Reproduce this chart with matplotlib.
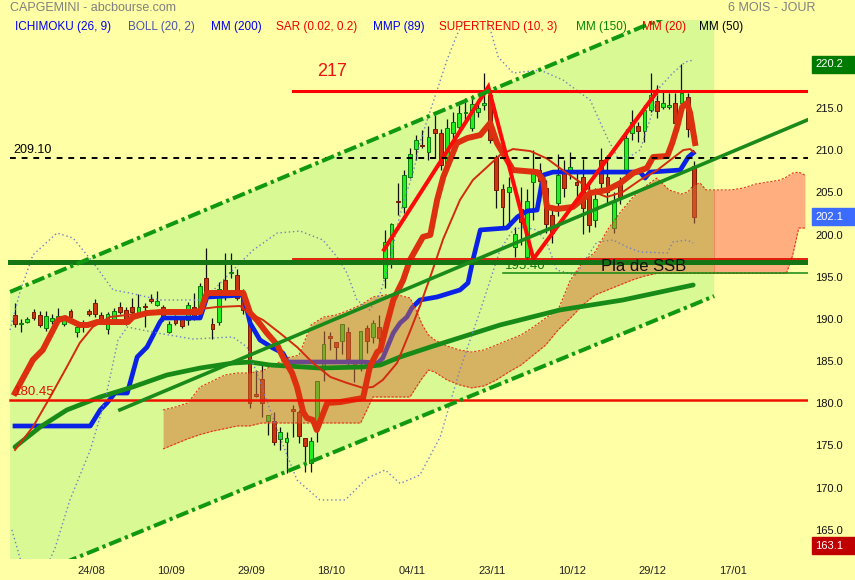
import numpy as np
import matplotlib
matplotlib.use("Agg")
import matplotlib.pyplot as plt
from matplotlib.patches import Rectangle

plt.rcParams['font.family'] = ['Liberation Sans', 'DejaVu Sans']

# ---------------- data (trading-day index / price) ----------------
opens = [190.46, 189.40, 189.63, 190.82, 190.46, 188.92, 189.75, 189.75, 189.40, 190.94,
         188.45, 189.28, 190.94, 191.88, 190.46, 188.80, 189.75, 191.41, 191.05, 191.41,
         190.70, 191.53, 192.36, 191.65, 191.41, 188.45, 190.22, 189.99, 189.87, 191.41,
         190.70, 194.85, 189.40, 189.63, 194.61, 195.40, 195.20, 193.07, 189.87, 181.10,
         182.87, 177.90, 177.90, 175.77, 175.42, 179.30, 178.97, 175.89, 172.93, 177.67,
         184.30, 187.97, 187.26, 187.38, 188.45, 184.77, 184.89, 188.92, 187.86, 189.04,
         194.85, 197.10, 203.90, 203.26, 206.81, 210.13, 210.55, 209.77, 212.50, 212.03,
         208.23, 212.03, 212.74, 214.40, 212.62, 214.51, 215.34, 216.53, 209.18, 205.39,
         205.03, 198.52, 203.00, 197.33, 206.20, 207.60, 205.51, 202.31, 203.73, 207.64,
         207.29, 206.22, 206.81, 205.03, 201.72, 208.83, 206.81, 200.77, 206.22, 207.64,
         212.03, 212.85, 212.26, 214.75, 215.82, 215.11, 215.11, 215.58, 215.58, 216.29,
         208.12]
highs = [191.90, 190.00, 190.20, 191.20, 190.90, 190.90, 190.60, 191.30, 190.30, 191.20,
         189.60, 189.90, 191.20, 192.40, 190.80, 190.80, 191.30, 192.00, 191.40, 192.50,
         193.00, 191.90, 192.90, 193.30, 191.70, 189.70, 190.50, 190.20, 192.00, 193.10,
         194.20, 198.40, 190.10, 194.40, 197.80, 197.80, 195.90, 193.50, 190.46, 184.00,
         184.80, 178.60, 179.00, 177.20, 176.60, 179.80, 179.20, 175.90, 176.00, 182.64,
         188.60, 188.50, 187.30, 189.40, 189.10, 184.90, 188.60, 189.30, 189.90, 190.50,
         200.50, 201.40, 206.10, 207.60, 210.25, 211.80, 212.40, 212.90, 214.20, 212.50,
         213.70, 214.50, 215.30, 216.20, 216.50, 216.10, 219.10, 217.10, 209.40, 206.00,
         206.80, 200.90, 205.60, 205.40, 210.00, 208.50, 206.50, 203.50, 209.60, 208.80,
         209.80, 207.50, 208.90, 206.40, 205.50, 210.20, 209.40, 205.00, 206.80, 212.50,
         214.75, 213.30, 215.30, 219.10, 217.70, 217.10, 216.80, 216.80, 220.20, 216.80,
         208.70]
lows = [189.00, 188.50, 189.50, 189.90, 189.00, 188.60, 189.40, 189.50, 189.20, 190.00,
        187.90, 188.50, 190.40, 190.20, 189.50, 188.20, 189.40, 190.60, 189.30, 190.60,
        190.30, 189.00, 191.90, 191.50, 189.80, 188.30, 189.30, 188.90, 189.30, 189.90,
        190.30, 192.70, 187.60, 189.30, 192.30, 194.90, 192.20, 190.60, 179.50, 180.80,
        178.40, 176.20, 175.10, 174.50, 171.70, 176.00, 175.30, 171.90, 171.90, 175.40,
        182.70, 186.30, 184.90, 185.80, 184.50, 182.50, 183.80, 186.00, 187.20, 186.70,
        193.70, 196.00, 202.30, 202.60, 206.70, 208.80, 210.20, 208.80, 209.10, 207.70,
        207.70, 211.20, 212.30, 213.30, 212.30, 213.90, 214.70, 210.90, 203.10, 200.80,
        200.80, 197.30, 198.70, 196.80, 201.70, 204.00, 200.20, 199.00, 202.20, 204.40,
        206.60, 204.00, 200.10, 200.30, 200.90, 204.90, 203.50, 200.20, 203.60, 206.50,
        211.20, 211.00, 211.00, 214.50, 213.80, 214.90, 214.90, 213.20, 215.30, 211.56,
        201.36]
closes = [189.40, 189.51, 189.99, 190.11, 189.28, 190.34, 190.10, 190.34, 189.87, 190.22,
          189.04, 189.63, 190.58, 190.58, 189.75, 190.58, 190.94, 190.82, 189.75, 190.82,
          191.41, 191.41, 192.12, 192.12, 190.11, 189.40, 189.51, 189.16, 191.65, 190.22,
          193.90, 193.07, 188.80, 193.54, 192.59, 195.44, 192.48, 191.05, 180.04, 180.85,
          180.04, 178.61, 175.41, 176.60, 175.89, 179.10, 176.13, 174.94, 175.53, 182.64,
          187.03, 187.74, 186.67, 189.40, 185.25, 184.42, 188.57, 187.38, 189.51, 187.74,
          199.11, 201.24, 203.80, 207.05, 209.54, 211.20, 210.45, 211.55, 212.03, 208.23,
          212.62, 213.33, 214.40, 214.52, 215.46, 214.99, 215.58, 211.20, 205.27, 203.26,
          205.63, 200.06, 201.50, 203.97, 207.40, 206.40, 201.24, 200.18, 207.05, 205.51,
          208.00, 205.86, 203.14, 201.13, 204.21, 206.10, 205.03, 203.85, 204.44, 211.43,
          213.33, 212.26, 214.75, 216.53, 214.63, 215.58, 215.34, 213.21, 216.76, 212.50,
          202.10]

# Ichimoku (blue thick)
ichi_x = [0, 12.2, 13.8, 14.9, 16.2, 18.2, 19.8, 21.4, 22.4, 23.5, 24.0, 30.0, 31.1, 37.0, 38.1,
          39.7, 41.8, 43.4, 44.2, 56.4, 58.8, 59.6, 61.3, 62.4, 63.5, 64.3, 65.6, 68.4, 72.1, 73.4,
          74.2, 75.4, 79.7, 81.4, 83.0, 84.6, 85.6, 87.2, 101.3, 102.1, 102.9, 107.8, 109.1, 109.9]
ichi_y = [177.31, 177.31, 179.21, 180.04, 181.22, 181.22, 185.49, 186.67, 188.09, 189.63, 190.11,
          190.11, 192.59, 192.83, 189.51, 187.50, 186.55, 185.96, 184.89, 184.89, 184.77, 185.37,
          188.34, 189.51, 190.22, 191.29, 192.24, 192.60, 193.43, 194.26, 196.98, 200.54, 200.78,
          202.08, 202.79, 202.90, 207.05, 207.40, 207.40, 206.69, 207.40, 207.64, 209.18, 209.66]

# Supertrend (thick red)
st_x = [0, 2.9, 4.5, 7.0, 8.1, 10.5, 11.8, 13.3, 18.3, 19.1, 21.4, 24.0, 30.0, 31.1, 37.0, 38.1,
        39.2, 40.8, 42.5, 43.4, 44.9, 45.7, 46.7, 47.3, 48.3, 48.9, 50.6, 52.7, 56.4, 57.5, 58.7,
        59.2, 60.3, 61.3, 62.9, 64.0, 66.1, 67.3, 68.4, 69.4, 71.6, 73.3, 75.4, 77.0, 78.1, 80.7,
        84.6, 85.6, 86.2, 87.8, 90.4, 93.2, 95.9, 98.1, 100.2, 102.4, 103.4, 105.7, 106.5, 107.3,
        108.1, 108.9, 109.4, 110.2]
st_y = [181.23, 185.14, 186.32, 189.87, 190.11, 189.28, 189.28, 189.63, 189.63, 190.22, 190.70,
        190.82, 190.82, 193.07, 193.07, 190.70, 189.87, 188.34, 186.91, 185.49, 183.59, 181.93,
        178.97, 178.26, 178.02, 176.84, 180.04, 180.15, 180.63, 184.30, 186.08, 186.32, 189.51,
        192.24, 194.61, 196.98, 199.71, 199.95, 204.09, 206.81, 210.84, 211.43, 211.79, 213.21,
        210.84, 207.64, 207.40, 206.46, 203.26, 203.02, 203.26, 204.92, 205.27, 206.10, 207.29,
        207.88, 209.18, 209.30, 210.84, 212.74, 215.11, 215.58, 214.40, 210.84]

# MM(20) thin red
m20_x = [0, 2.9, 5.7, 8.4, 10.5, 12.6, 15.4, 18.2, 20.7, 24.0, 27.2, 30.0, 32.7, 36.5, 37.6, 40.2,
         42.9, 45.7, 48.3, 51.1, 53.8, 56.4, 58.0, 59.6, 61.9, 64.0, 65.6, 67.3, 69.4, 72.1, 74.2,
         76.5, 78.6, 80.7, 83.5, 86.2, 88.8, 91.6, 93.2, 95.9, 98.5, 101.3, 104.1, 106.6, 108.3,
         109.4, 110.0]
m20_y = [174.47, 177.20, 180.75, 184.31, 187.16, 189.05, 190.23, 190.47, 190.70, 191.06, 190.95,
         191.17, 191.41, 191.53, 190.82, 189.87, 188.34, 186.67, 184.77, 183.12, 182.41, 181.82,
         181.94, 182.77, 184.77, 188.50, 191.50, 195.00, 199.50, 204.09, 206.46, 208.00, 209.42,
         210.13, 209.89, 209.00, 207.60, 206.20, 205.20, 204.45, 205.04, 206.46, 207.64, 209.06,
         210.01, 210.13, 209.77]

# MM(150) thick green
m150_x = [0, 4.1, 8.4, 13.8, 19.1, 24.6, 30.0, 35.3, 38.1, 41.3, 49.4, 56.4, 59.2, 62.4, 67.3,
          78.6, 88.3, 98.5, 109.9]
m150_y = [174.83, 177.20, 179.21, 180.75, 181.94, 183.35, 184.18, 184.77, 184.89, 184.54, 184.18,
          184.30, 184.54, 185.49, 186.67, 189.28, 191.06, 192.24, 194.02]

# Bollinger (20, 2)
bu_x = [-0.8, 0.8, 2.9, 6.8, 9.4, 12.6, 15.9, 18.6, 23.5, 29.5, 31.1, 35.3, 38.6, 42.5, 46.2,
        49.9, 52.2, 53.8, 55.4, 57.5, 59.2, 60.8, 61.9, 62.9, 64.5, 65.6, 66.8, 68.4, 70.0, 71.6,
        73.4, 76.2, 78.3, 80.7, 85.1, 88.8, 91.6, 93.2, 95.9, 97.6, 99.2, 101.3, 103.4, 104.5,
        106.6, 108.6, 109.9]
bu_y = [188.69, 193.19, 197.57, 200.18, 199.59, 196.74, 193.43, 193.07, 192.24, 192.24, 192.59,
        195.79, 198.16, 200.18, 200.41, 199.35, 197.33, 195.44, 192.24, 191.05, 193.07, 196.98,
        200.89, 203.73, 207.29, 210.84, 213.57, 217.12, 220.67, 223.64, 226.37, 226.37, 221.04,
        219.14, 219.49, 218.31, 216.77, 215.94, 211.56, 209.18, 209.06, 210.01, 214.75, 217.48,
        219.14, 220.44, 220.67]
bl_x = [-0.5, 1.6, 4.9, 6.5, 8.9, 12.2, 14.6, 16.7, 18.2, 23.0, 28.8, 35.3, 37.6, 40.2, 42.9,
        45.7, 49.4, 53.5, 57.1, 60.0, 62.4, 65.6, 68.9, 72.1, 75.4, 78.6, 80.7, 82.3, 84.6, 86.2,
        87.8, 90.8, 94.3, 96.9, 99.2, 101.3, 105.7, 106.6, 108.9, 109.9]
bl_y = [165.00, 159.66, 160.25, 162.86, 168.55, 174.47, 180.39, 187.50, 189.04, 188.34, 187.62,
        187.86, 186.67, 181.58, 176.01, 170.92, 168.55, 168.55, 171.15, 172.10, 170.50, 171.50,
        176.00, 184.00, 191.00, 198.16, 200.54, 200.89, 200.54, 199.00, 195.79, 195.20, 199.11,
        199.35, 198.52, 197.93, 197.81, 199.11, 199.35, 198.99]

# Ichimoku cloud (upper / lower boundaries)
cloud_x = [24, 26, 28, 30, 32, 34, 36, 38, 40, 42, 44, 46, 48, 50, 52, 54, 56, 57, 58, 60, 62, 64,
           65, 66, 67, 68, 70, 72, 74, 76, 78, 80, 82, 84, 86, 88, 90, 92, 94, 96, 98, 100, 102,
           104, 106, 108, 109, 110, 111, 112, 114, 116, 118, 120, 122, 124, 125, 126, 127, 128]
cloud_hi = [179.21, 179.56, 180.04, 181.93, 182.64, 183.35, 183.59, 183.59, 183.83, 184.54,
            185.37, 185.70, 189.29, 190.22, 190.46, 191.00, 191.65, 192.10, 192.60, 192.84,
            192.84, 192.48, 191.06, 189.29, 188.10, 187.51, 186.79, 186.32, 186.08, 186.32,
            186.91, 187.51, 188.10, 189.04, 190.11, 191.06, 194.61, 196.74, 197.93, 200.54,
            202.55, 204.32, 205.63, 206.69, 205.27, 204.80, 205.04, 205.86, 206.10, 205.28,
            205.28, 205.28, 205.51, 205.98, 206.22, 206.46, 206.81, 207.28, 207.40, 207.05]
cloud_lo = [174.60, 175.20, 175.80, 176.30, 176.70, 177.00, 177.32, 177.32, 177.67, 177.67,
            177.67, 177.67, 177.67, 177.67, 177.67, 177.67, 177.67, 179.21, 180.75, 180.75,
            180.75, 180.75, 181.90, 183.00, 183.95, 183.71, 182.77, 182.18, 181.83, 182.06,
            182.77, 183.71, 184.54, 185.73, 186.91, 188.69, 190.11, 191.65, 192.84, 193.43,
            194.02, 194.61, 195.08, 195.40, 195.40, 195.40, 195.40, 195.40, 195.40, 195.40,
            195.40, 195.40, 195.40, 195.40, 195.40, 195.40, 195.40, 197.50, 200.77, 200.77]

# drawings: channel, trend line, zigzag, levels
chan_x = [-0.8, 113.3]
chan_hi = [193.20, 228.20]
chan_lo = [158.47, 192.70]
trend_x = [17.0, 128.8]
trend_y = [179.22, 213.70]
zz_x = [59.8, 76.7, 84.0, 104.1]
zz_y = [198.2, 217.5, 197.1, 217.0]
lvl_217 = 217.0
lvl_red_sup = 197.06
lvl_green_sup = 196.78
lvl_dash = 209.10
lvl_18045 = 180.45
lvl_ssb = 195.40
lvl_start_draw = 45.1
lvl_start_ssb = 79.1
lvl_start_left = -0.8

date_idx = [12, 25, 38, 51, 64, 77, 90, 103, 116]
date_lbl = ['24/08', '10/09', '29/09', '18/10', '04/11', '23/11', '10/12', '29/12', '17/01']
ytick_vals = [165, 170, 175, 180, 185, 190, 195, 200, 205, 210, 215]
box_vals = [220.2, 202.1, 163.1]
box_cols = ['#007A00', '#3C6CFF', '#C00000']

legend_items = [('ICHIMOKU (26, 9)', '#0000EE'), ('BOLL (20, 2)', '#4A55A8'),
                ('MM (200)', '#0000EE'), ('SAR (0.02, 0.2)', '#EE0000'),
                ('MMP (89)', '#0000EE'), ('SUPERTREND (10, 3)', '#EE0000'),
                ('MM (150)', '#008800'), ('MM (20)', '#EE0000'), ('MM (50)', '#000000')]

# ---------------- figure ----------------
BG = '#FFFFA6'
GREEN_BG = '#D9F995'
W, H = 855, 580
fig = plt.figure(figsize=(W / 100, H / 100), dpi=100, facecolor=BG)
ax_l, ax_b, ax_w, ax_h = 0, (H - 559) / H, 808 / W, (559 - 20) / H
ax = fig.add_axes([ax_l, ax_b, ax_w, ax_h])
ax.set_facecolor(BG)
XL = (-2.43, 128.5)
YL = (161.55, 225.42)
ax.set_xlim(*XL)
ax.set_ylim(*YL)
for s in ax.spines.values():
    s.set_visible(False)

# channel fill
ax.fill_between(chan_x, chan_lo, chan_hi, color=GREEN_BG, lw=0, zorder=0.5)

# candles
o = np.array(opens); c = np.array(closes); hh = np.array(highs); ll = np.array(lows)
idx = np.arange(len(o))
up = c >= o
ax.vlines(idx, ll, hh, color='#111111', lw=0.9, zorder=3)
bb = np.minimum(o, c)
bh = np.maximum(np.abs(c - o), 0.13)
ax.bar(idx[up], bh[up], bottom=bb[up], width=0.62, color='#22EE22', edgecolor='#0B7A0B',
       lw=0.7, zorder=3.1)
ax.bar(idx[~up], bh[~up], bottom=bb[~up], width=0.62, color='#CC3311', edgecolor='#7A1A00',
       lw=0.7, zorder=3.1)

# ichimoku line (below cloud)
ax.plot(ichi_x, ichi_y, color='#0A22E6', lw=3.4, solid_joinstyle='round', zorder=4)

# cloud
f_tan = ax.fill_between(cloud_x, cloud_lo, cloud_hi, color='#D36F33', alpha=0.5, lw=0, zorder=5)
f_tan.set_clip_path(Rectangle((XL[0], YL[0]), chan_x[1] - XL[0], YL[1] - YL[0],
                              transform=ax.transData))
f_pch = ax.fill_between(cloud_x, cloud_lo, cloud_hi, color='#FF615A', alpha=0.5, lw=0, zorder=5)
f_pch.set_clip_path(Rectangle((chan_x[1], YL[0]), XL[1] - chan_x[1], YL[1] - YL[0],
                              transform=ax.transData))
ax.plot(cloud_x, cloud_hi, color='#E8301A', lw=0.8, ls=(0, (2, 1.5)), zorder=5.5)
ax.plot(cloud_x, cloud_lo, color='#E8301A', lw=0.8, ls=(0, (2, 1.5)), zorder=5.5)

# MM150 above cloud
ax.plot(m150_x, m150_y, color='#178A17', lw=3.4, solid_capstyle='round', zorder=5.55)

# bollinger
ax.plot(bu_x, bu_y, color='#6F80C4', lw=1.0, ls=(0, (1, 2)), zorder=5.6)
ax.plot(bl_x, bl_y, color='#6F80C4', lw=1.0, ls=(0, (1, 2)), zorder=5.6)

# red lines
ax.plot(m20_x, m20_y, color='#D42A10', lw=1.4, zorder=6)
ax.plot(st_x, st_y, color='#DD3010', lw=4.3, solid_joinstyle='round', zorder=6.5)

# drawings
ax.plot(zz_x, zz_y, color='#FF0A0A', lw=2.9, solid_joinstyle='miter', zorder=7)
ax.plot([lvl_start_draw, XL[1]], [lvl_217, lvl_217], color='#FF0000', lw=2.2, zorder=7.5)
ax.plot([lvl_start_left, XL[1]], [lvl_green_sup, lvl_green_sup], color='#137513', lw=3.6,
        zorder=7.4)
ax.plot([lvl_start_draw, XL[1]], [lvl_red_sup, lvl_red_sup], color='#E01000', lw=1.3, zorder=7.5)
ax.plot([lvl_start_left, XL[1]], [lvl_dash, lvl_dash], color='black', lw=1.4, ls=(0, (3, 3)),
        zorder=7.5)
ax.plot([lvl_start_left, XL[1]], [lvl_18045, lvl_18045], color='#EE1100', lw=1.8, zorder=7.5)
ax.plot([lvl_start_ssb, XL[1]], [lvl_ssb, lvl_ssb], color='#118811', lw=1.1, zorder=7.5)
ax.plot(trend_x, trend_y, color='#1A8A1A', lw=2.6, zorder=7.5)
ax.plot(chan_x, chan_hi, color='#109910', lw=2.9, ls=(0, (3.2, 1.0, 0.8, 1.0)), zorder=7.6)
ax.plot(chan_x, chan_lo, color='#109910', lw=2.9, ls=(0, (3.2, 1.0, 0.8, 1.0)), zorder=7.6)

# annotations on chart
ax.text(49.0, lvl_217 + 1.3, '217', color='#EE1111', fontsize=13, ha='left', va='bottom', zorder=8)
ax.text(-0.2, lvl_dash + 0.25, '209.10', color='black', fontsize=9, ha='left', va='bottom', zorder=8)
ax.text(-0.2, lvl_18045 + 0.15, '180.45', color='#DD1100', fontsize=9.5, ha='left', va='bottom',
        zorder=8)
ax.text(lvl_start_ssb + 0.3, lvl_ssb + 0.1, '195.40', color='#117711', fontsize=9.5, ha='left',
        va='bottom', zorder=8)
ax.text(95.0, lvl_ssb - 0.05, 'Pla de SSB', color='#111111', fontsize=12, ha='left',
        va='bottom', zorder=8)

# axes ticks
ax.yaxis.tick_right()
ax.set_yticks(ytick_vals)
ax.set_yticklabels([f'{v:.1f}' for v in ytick_vals])
ax.tick_params(axis='y', length=0, pad=5, labelsize=8, labelcolor='#111111')
ax.set_xticks([d + 0.3 for d in date_idx])
ax.set_xticklabels(date_lbl)
ax.tick_params(axis='x', length=0, pad=5, labelsize=8, labelcolor='#222222')

# price boxes on right
for v, col in zip(box_vals, box_cols):
    yf = ax_b + (v - YL[0]) / (YL[1] - YL[0]) * ax_h
    fig.patches.append(Rectangle((812 / W, yf - 8.5 / H), 43 / W, 17 / H, transform=fig.transFigure,
                                 color=col, zorder=10))
    fig.text(815 / W, yf, f'{v:.1f}', color='white', fontsize=8, ha='left', va='center', zorder=11)

# header
fig.text(10 / W, 1 - 8 / H, 'CAPGEMINI - abcbourse.com', color='#808080', fontsize=9,
         ha='left', va='center')
fig.text(728 / W, 1 - 8 / H, '6 MOIS - JOUR', color='#808080', fontsize=9, ha='left', va='center')
leg_x = [15, 128, 211, 276, 373, 439, 576, 642, 699]
for (lab, col), xp in zip(legend_items, leg_x):
    fig.text(xp / W, 1 - 27 / H, lab, color=col, fontsize=8.5, ha='left', va='center', zorder=12)

fig.savefig('out.png', dpi=100, facecolor=BG)
